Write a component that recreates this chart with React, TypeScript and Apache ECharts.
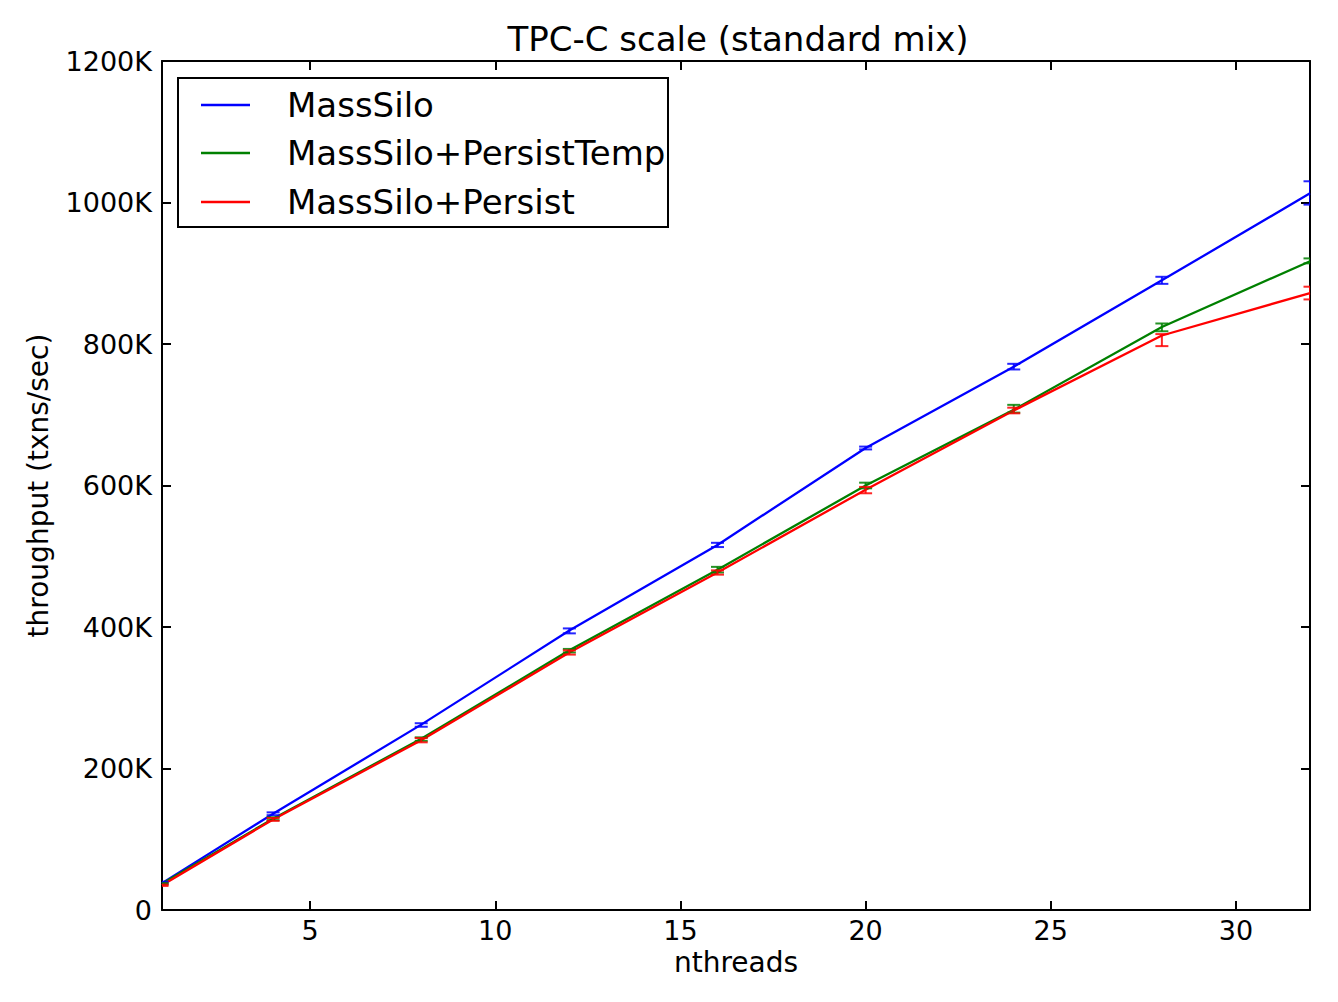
import React, { useEffect, useRef } from "react";
import * as echarts from "echarts";

const threads = [1, 4, 8, 12, 16, 20, 24, 28, 32];
const xTicks = [5, 10, 15, 20, 25, 30];

// throughput in K txns/sec
const massSilo = [38, 136, 262, 395, 516, 653, 768, 890, 1013];
const massSiloLow = [37, 134, 259, 391, 513, 651, 764, 885, 997];
const massSiloHigh = [40, 138, 264, 398, 519, 655, 772, 895, 1030];

const persistTemp = [37, 129, 242, 367, 481, 600, 707, 824, 917];
const persistTempLow = [36, 127, 239, 364, 477, 596, 703, 818, 914];
const persistTempHigh = [38, 131, 244, 369, 485, 604, 714, 829, 921];

const persist = [35, 128, 240, 364, 477, 594, 706, 812, 872];
const persistLow = [34, 126, 237, 361, 474, 589, 702, 797, 863];
const persistHigh = [36, 130, 243, 367, 480, 598, 710, 814, 881];

const seriesNames = ["MassSilo", "MassSilo+PersistTemp", "MassSilo+Persist"];
const seriesColors = ["#0000ff", "#008000", "#ff0000"];

const FONT = "DejaVu Sans";

function lineSeries(name: string, color: string, vals: number[]) {
  return {
    type: "line",
    name,
    data: threads.map((x, i) => [x, vals[i]]),
    symbol: "none",
    lineStyle: { color, width: 2.3 },
    itemStyle: { color },
    clip: true,
    z: 3,
  };
}

function errSeries(color: string, lo: number[], hi: number[]) {
  return {
    type: "custom",
    clip: true,
    z: 4,
    data: threads.map((x, i) => [x, lo[i], hi[i]]),
    encode: { x: 0, y: [1, 2] },
    renderItem: (params: any, api: any) => {
      const x = api.value(0);
      const p1 = api.coord([x, api.value(1)]);
      const p2 = api.coord([x, api.value(2)]);
      const cw = 6.5;
      const style = { stroke: color, lineWidth: 2, opacity: 0.85 };
      return {
        type: "group",
        children: [
          { type: "line", shape: { x1: p1[0], y1: p1[1], x2: p2[0], y2: p2[1] }, style },
          { type: "line", shape: { x1: p1[0] - cw, y1: p1[1], x2: p1[0] + cw, y2: p1[1] }, style },
          { type: "line", shape: { x1: p2[0] - cw, y1: p2[1], x2: p2[0] + cw, y2: p2[1] }, style },
        ],
      };
    },
  };
}

export default function App() {
  const ref = useRef<HTMLDivElement>(null);
  useEffect(() => {
    const chart = echarts.init(ref.current!, null, { renderer: "svg" });
    const axisLine = { show: true, onZero: false, lineStyle: { color: "#000", width: 2 } };
    const tick = { show: true, inside: true, length: 9, lineStyle: { color: "#000", width: 2 } };
    const labelStyle = { color: "#000", fontSize: 27, fontFamily: FONT };
    const nameStyle = { color: "#000", fontSize: 28, fontFamily: FONT };
    const legendY = [105, 153, 202];
    const option: any = {
      animation: false,
      backgroundColor: "#fff",
      textStyle: { fontFamily: FONT },
      grid: { left: 162, top: 61, right: 28, bottom: 92, containLabel: false },
      xAxis: [
        {
          type: "value",
          min: 1,
          max: 32,
          position: "bottom",
          name: "nthreads",
          nameLocation: "middle",
          nameGap: 38,
          nameTextStyle: nameStyle,
          axisLine,
          axisTick: { ...tick, customValues: xTicks },
          axisLabel: { ...labelStyle, margin: 7, customValues: xTicks },
          splitLine: { show: false },
        },
        {
          type: "value",
          min: 1,
          max: 32,
          position: "top",
          axisLine,
          axisTick: { ...tick, customValues: xTicks },
          axisLabel: { show: false, customValues: xTicks },
          splitLine: { show: false },
        },
      ],
      yAxis: [
        {
          type: "value",
          min: 0,
          max: 1200,
          interval: 200,
          position: "left",
          name: "throughput (txns/sec)",
          nameLocation: "middle",
          nameGap: 110,
          nameTextStyle: nameStyle,
          axisLine,
          axisTick: tick,
          axisLabel: {
            ...labelStyle,
            margin: 10,
            formatter: (v: number) => (v === 0 ? "0" : v + "K"),
          },
          splitLine: { show: false },
        },
        {
          type: "value",
          min: 0,
          max: 1200,
          interval: 200,
          position: "right",
          axisLine,
          axisTick: tick,
          axisLabel: { show: false },
          splitLine: { show: false },
        },
      ],
      series: [
        lineSeries(seriesNames[0], seriesColors[0], massSilo),
        lineSeries(seriesNames[1], seriesColors[1], persistTemp),
        lineSeries(seriesNames[2], seriesColors[2], persist),
        errSeries(seriesColors[0], massSiloLow, massSiloHigh),
        errSeries(seriesColors[1], persistTempLow, persistTempHigh),
        errSeries(seriesColors[2], persistLow, persistHigh),
      ],
      graphic: [
        {
          type: "text",
          x: 738,
          y: 38.5,
          z: 100,
          style: {
            text: "TPC-C scale (standard mix)",
            fontSize: 34,
            fontFamily: FONT,
            fill: "#000",
            textAlign: "center",
            textVerticalAlign: "middle",
          },
        },
        {
          type: "rect",
          z: 100,
          shape: { x: 178, y: 78, width: 490, height: 149 },
          style: { fill: "#fff", stroke: "#000", lineWidth: 2 },
        },
        ...seriesNames.flatMap((n, i) => [
          {
            type: "line",
            z: 101,
            shape: { x1: 201, y1: legendY[i], x2: 250, y2: legendY[i] },
            style: { stroke: seriesColors[i], lineWidth: 2.3 },
          },
          {
            type: "text",
            z: 101,
            x: 287,
            y: legendY[i],
            style: {
              text: n,
              fontSize: 34,
              fontFamily: FONT,
              fill: "#000",
              textAlign: "left",
              textVerticalAlign: "middle",
            },
          },
        ]),
      ],
    };
    chart.setOption(option);
    return () => chart.dispose();
  }, []);
  return (
    <div
      ref={ref}
      style={{ position: "absolute", left: 0, top: 0, width: 1338, height: 1002 }}
    />
  );
}
